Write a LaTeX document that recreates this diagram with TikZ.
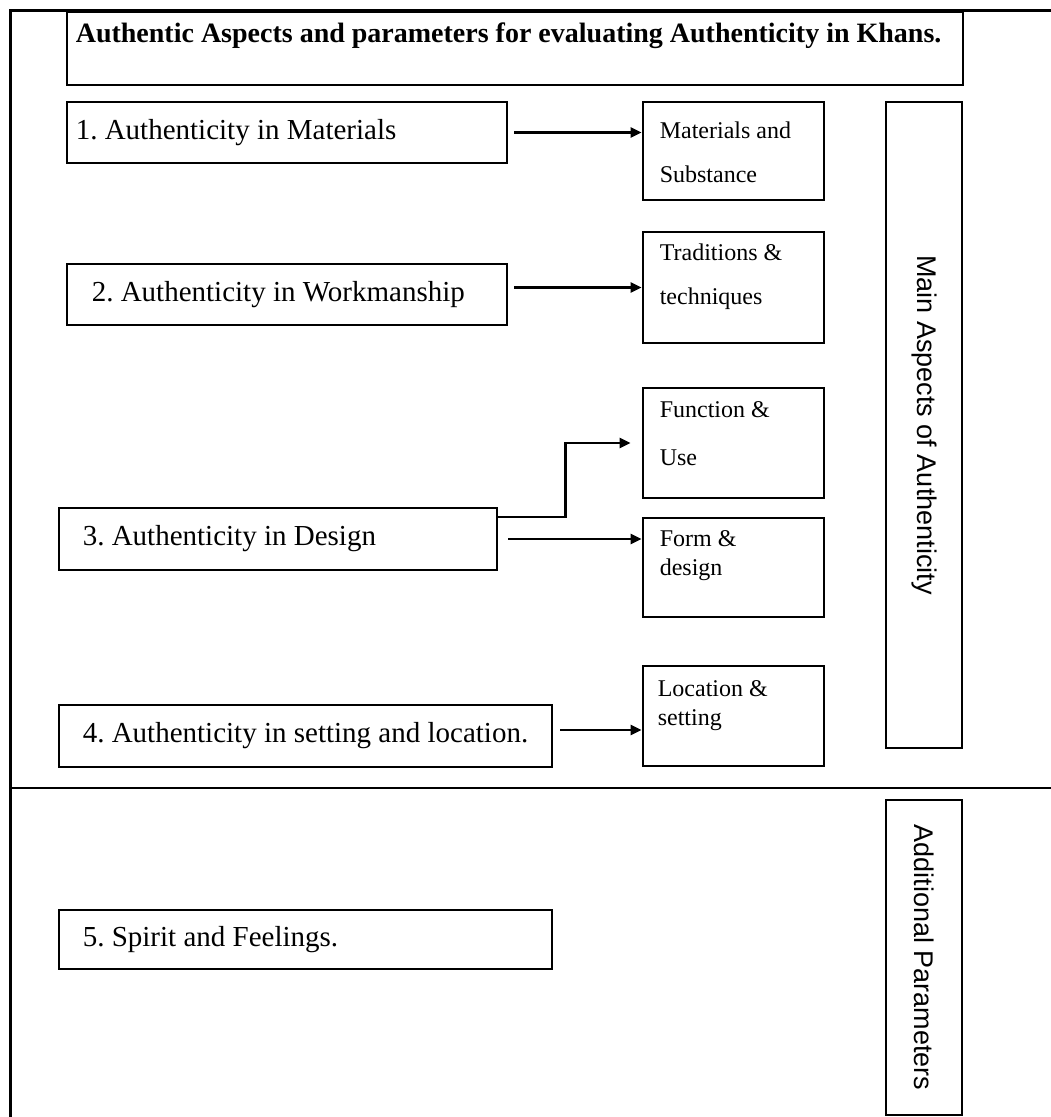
\documentclass[tikz,border=0pt]{standalone}
\usepackage{fontspec}
\setmainfont{Liberation Serif}
\setsansfont{Liberation Sans}
\usepackage{tikz}
\usetikzlibrary{arrows.meta,calc}
\frenchspacing

\begin{document}
\begin{tikzpicture}
    [
      x=1pt, y=-1pt,
      box/.style = {draw, line width=2.8pt, inner sep=0pt},
      aspect/.style = {box, minimum height=61pt},
      param/.style = {box, minimum width=181pt},
      side/.style = {box, minimum width=76pt},
      ltext/.style = {anchor=west, inner sep=0pt, font=\fontsize{29}{34}\selectfont},
      rtext/.style = {anchor=base west, inner sep=0pt, align=left, font=\fontsize{24}{28}\selectfont},
      vtext/.style = {rotate=-90, inner sep=0pt, font=\sffamily\fontsize{27}{32}\selectfont},
      arr/.style = {line width=2.2pt, -{Triangle[length=11pt,width=10pt]}},
    ]
    \useasboundingbox (0,0) rectangle (1051,1117);
    % frame and divider
    \draw[line width=3pt] (10,1117) -- (10,10) -- (1051,10);
    \draw[line width=2.8pt] (10,788) -- (1051,788);

    % heading
    \node[box, minimum width=896pt, minimum height=73pt] (title) at (515,48.5) {};
    \node[anchor=base west, inner sep=0pt, font=\bfseries\fontsize{28}{33}\selectfont] (ttl)
      at ([shift={(10pt,-32pt)}]title.north west) {Authentic Aspects and parameters for evaluating Authenticity in Khans.};

    % aspects
    \node[aspect, minimum width=440pt] (b1) at (287,132.5) {};
    \node[ltext] (t1) at ([xshift=10pt]b1.west) {1. Authenticity in Materials};
    \node[aspect, minimum width=440pt] (b2) at (287,294.5) {};
    \node[ltext] (t2) at ([xshift=26pt]b2.west) {2. Authenticity in Workmanship};
    \node[aspect, minimum width=438pt, minimum height=62pt] (b3) at (278,539) {};
    \node[ltext] (t3) at ([xshift=25pt]b3.west) {3. Authenticity in Design};
    \node[aspect, minimum width=493pt, minimum height=62pt] (b4) at (305.5,736) {};
    \node[ltext] (t4) at ([xshift=25pt]b4.west) {4. Authenticity in setting and location.};
    \node[aspect, minimum width=493pt, minimum height=59pt] (b5) at (305.5,939.5) {};
    \node[ltext] (t5) at ([xshift=25pt]b5.west) {5. Spirit and Feelings.};

    % parameters (base = last line)
    \node[param, minimum height=98pt] (r1) at (733.5,151) {};
    \node[rtext] (s1) at ([shift={(18pt,-82pt)}]r1.north west) {Materials and\\[16pt]Substance};
    \node[param, minimum height=111pt] (r2) at (733.5,287.5) {};
    \node[rtext] (s2) at ([shift={(18pt,-74pt)}]r2.north west) {Traditions \&\\[16pt]techniques};
    \node[param, minimum height=110pt] (r3) at (733.5,443) {};
    \node[rtext] (s3) at ([shift={(18pt,-79pt)}]r3.north west) {Function \&\\[20pt]Use};
    \node[param, minimum height=99pt] (r4) at (733.5,567.5) {};
    \node[rtext] (s4) at ([shift={(18pt,-59pt)}]r4.north west) {Form \&\\[1pt]design};
    \node[param, minimum height=100pt] (r5) at (733.5,716) {};
    \node[rtext] (s5) at ([shift={(16pt,-61pt)}]r5.north west) {Location \&\\[1pt]setting};

    % side labels
    \node[side, minimum height=646pt] (main) at (924,425) {};
    \node[vtext] (mainlbl) at (main.center) {Main Aspects of Authenticity};
    \node[side, minimum height=315pt] (addl) at (924,957.5) {};
    \node[vtext] (addllbl) at (addl.center) {Additional Parameters};

    % arrows
    \draw[arr] ([xshift=6pt]b1.east) -- (b1.east -| r1.west);
    \draw[arr] ([xshift=6pt]b2.east |- r2.west) -- (r2.west);
    \draw[arr] ([yshift=-10pt]b3.north east) -- ++(67,0) |- ([xshift=-11pt]r3.west);
    \draw[arr] ([xshift=10pt]b3.east) -- (b3.east -| r4.west);
    \draw[arr] ([shift={(7pt,6pt)}]b4.east) -- ([yshift=6pt]b4.east -| r5.west);
\end{tikzpicture}
\end{document}
